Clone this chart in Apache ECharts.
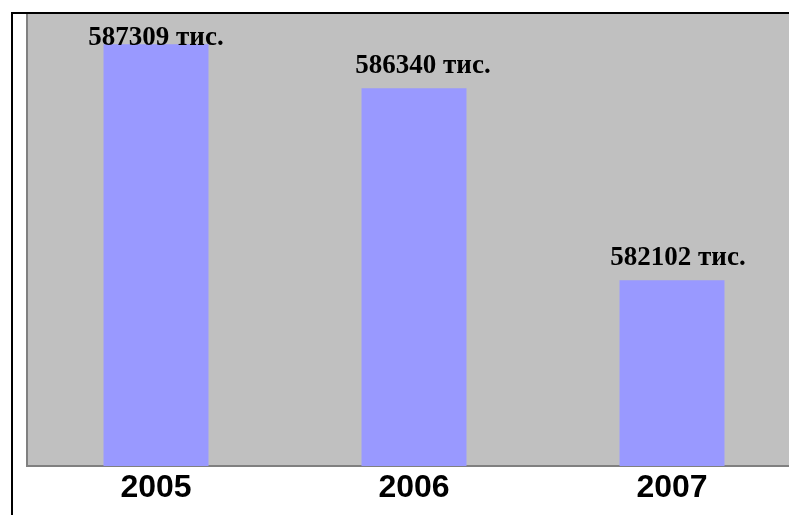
<!DOCTYPE html>
<html>
<head>
<meta charset="utf-8">
<script src="https://cdn.jsdelivr.net/npm/echarts@6/dist/echarts.min.js"></script>
<style>
html,body{margin:0;padding:0;background:#fff;}
#chart{width:789px;height:515px;}
</style>
</head>
<body>
<div id="chart"></div>
<script>
const categories = ['2005', '2006', '2007'];
const values = [587309, 586340, 582102];
const labelSuffix = ' тис.';
const yMin = 578000;
const yMax = 588000;

const chart = echarts.init(document.getElementById('chart'), null, {renderer: 'canvas'});

const labelOffsets = [[0, 16], [9, 0], [6, 0]];
const data = values.map(function (v, i) {
  return {value: v, label: {offset: labelOffsets[i]}};
});

const option = {
  animation: false,
  backgroundColor: '#ffffff',
  grid: {
    left: 27, top: 13, width: 774, bottom: 49,
    containLabel: false,
    outerBoundsMode: 'none',
    show: true,
    backgroundColor: '#C0C0C0',
    borderColor: '#808080',
    borderWidth: 2
  },
  xAxis: {
    type: 'category',
    data: categories,
    axisLine: {show: true, lineStyle: {color: '#808080', width: 2}},
    axisTick: {show: false},
    axisLabel: {
      color: '#000',
      fontFamily: 'Liberation Sans, Arial, sans-serif',
      fontWeight: 'bold',
      fontSize: 32,
      margin: 6
    }
  },
  yAxis: {
    type: 'value',
    min: yMin,
    max: yMax,
    show: false,
    splitLine: {show: false}
  },
  series: [{
    type: 'bar',
    data: data,
    barWidth: 105,
    itemStyle: {color: '#9999FF'},
    label: {
      show: true,
      position: 'top',
      distance: 9,
      color: '#000',
      fontFamily: 'Liberation Serif, Times New Roman, serif',
      fontWeight: 'bold',
      fontSize: 27,
      formatter: function (p) { return p.value + labelSuffix; }
    }
  }],
  graphic: [{
    type: 'rect',
    shape: {x: 12, y: 13, width: 820, height: 600},
    style: {fill: 'none', stroke: '#000', lineWidth: 2},
    z: 100
  }]
};
chart.setOption(option);
</script>
</body>
</html>
